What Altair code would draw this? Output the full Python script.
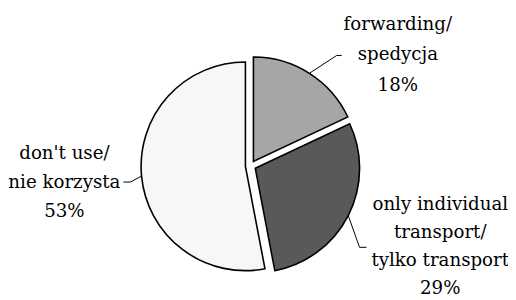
import altair as alt
import pandas as pd

# ---- data ----
keys = ["forwarding", "individual", "dont_use"]
label_lines = [
    ["forwarding/", "spedycja"],
    ["only individual", "transport/", "tylko transport"],
    ["don't use/", "nie korzysta"],
]
shares = [18, 29, 53]

# ---- style ----
fills = {"forwarding": "#a6a6a6", "individual": "#595959", "dont_use": "#f7f7f7"}
CX, CY = 246.5, 158      # pie centre (px, plot coordinates)
R = 106                  # pie radius
EXPLODE = 5.3            # slice explosion distance
# leader: (angle shift deg, elbow radius, horizontal tail length)
LEADER = {"forwarding": (5.8, 137, 5), "individual": (10.2, 133, 7), "dont_use": (-2.4, 118, -7)}
# label: (dx, dy, lineHeight) relative to leader tail end
LABEL = {"forwarding": (57, -26, 31), "individual": (75, -38, 28.5), "dont_use": (-60, -23, 29)}
FONT = "DejaVu Serif"
FONT_SIZE = 18.5

labels = ["\n".join(lines + [f"{v}%"]) for lines, v in zip(label_lines, shares)]
df = pd.DataFrame({"key": keys, "label": labels, "share": shares,
                   "order": list(range(len(keys)))})


def switch(mapping, idx):
    expr = "0"
    for k, v in mapping.items():
        expr = f"(datum.key === '{k}' ? {v[idx]} : {expr})"
    return expr


base = (
    alt.Chart(df)
    .transform_joinaggregate(total="sum(share)")
    .transform_window(cum="sum(share)", sort=[alt.SortField("order")], frame=[None, 0])
    .transform_calculate(a0="2*PI*(datum.cum - datum.share)/datum.total",
                         a1="2*PI*datum.cum/datum.total")
    .transform_calculate(mid="(datum.a0 + datum.a1)/2")
    .transform_calculate(ox=f"{CX} + {EXPLODE}*sin(datum.mid)",
                         oy=f"{CY} - {EXPLODE}*cos(datum.mid)")
    .transform_calculate(rx=f"datum.ox + {R}*sin(datum.mid)",
                         ry=f"datum.oy - {R}*cos(datum.mid)",
                         la=f"datum.mid + {switch(LEADER, 0)}*PI/180",
                         lr=switch(LEADER, 1),
                         lt=switch(LEADER, 2))
    .transform_calculate(ex="datum.ox + datum.lr*sin(datum.la)",
                         ey="datum.oy - datum.lr*cos(datum.la)")
    .transform_calculate(tx="datum.ex + datum.lt", ty="datum.ey")
)


def px(field):
    return alt.X(f"{field}:Q", scale=None, axis=None)


def py(field):
    return alt.Y(f"{field}:Q", scale=None, axis=None)


arcs = base.mark_arc(radius=R, stroke="black", strokeWidth=1.6).encode(
    theta=alt.Theta("a0:Q", scale=None, stack=False),
    theta2="a1:Q",
    x=px("ox"),
    y=py("oy"),
    fill=alt.Fill("key:N", scale=alt.Scale(domain=keys, range=[fills[k] for k in keys]),
                  legend=None),
)

lead1 = base.mark_rule(color="black", strokeWidth=1).encode(
    x=px("rx"), y=py("ry"), x2="ex:Q", y2="ey:Q")
lead2 = base.mark_rule(color="black", strokeWidth=1).encode(
    x=px("ex"), y=py("ey"), x2="tx:Q", y2="ty:Q")

texts = []
for k in keys:
    dx, dy, lh = LABEL[k]
    texts.append(
        base.transform_filter(f"datum.key === '{k}'")
        .mark_text(align="center", baseline="alphabetic", dx=dx, dy=dy, lineHeight=lh,
                   lineBreak="\n", font=FONT, fontSize=FONT_SIZE, color="black")
        .encode(x=px("tx"), y=py("ty"), text="label:N")
    )

chart = (
    alt.layer(arcs, lead1, lead2, *texts)
    .properties(width=508, height=292, padding=0,
                autosize=alt.AutoSizeParams(type="none"))
    .configure_view(stroke=None)
)

chart.save("out.html", embed_options={"renderer": "svg", "actions": False})
